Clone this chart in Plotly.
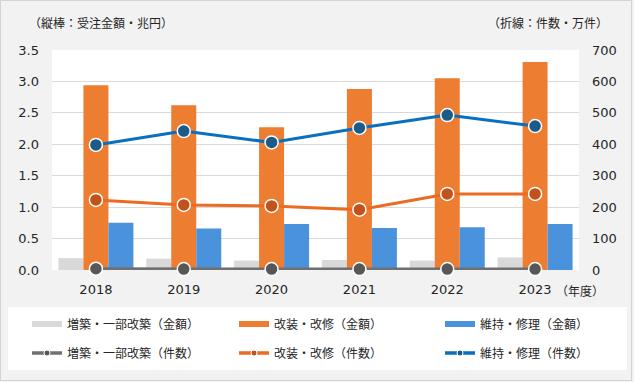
import plotly.graph_objects as go

years = ["2018", "2019", "2020", "2021", "2022", "2023"]

# bars (left axis, 兆円)
amt_extension = [0.19, 0.18, 0.15, 0.16, 0.15, 0.20]
amt_renovation = [2.94, 2.62, 2.27, 2.88, 3.05, 3.31]
amt_maintenance = [0.75, 0.66, 0.73, 0.67, 0.68, 0.73]

# lines (right axis, 万件)
cnt_extension = [4, 3, 3, 3, 3, 3]
cnt_renovation = [223, 207, 204, 192, 242, 242]
cnt_maintenance = [398, 442, 406, 452, 493, 458]

names_bar = ["増築・一部改築（金額）", "改装・改修（金額）", "維持・修理（金額）"]
names_line = ["増築・一部改築（件数）", "改装・改修（件数）", "維持・修理（件数）"]

left_ticks = [0, 0.5, 1.0, 1.5, 2.0, 2.5, 3.0, 3.5]
right_ticks = [0, 100, 200, 300, 400, 500, 600, 700]

W_FIG, H_FIG = 634, 382
L, R, T, B = 52, 579, 50, 270
PW, PH = R - L, B - T


def px_x(x):
    return (x - L) / PW


def px_y(y):
    return (B - y) / PH


FONT = "DejaVu Sans, Noto Sans CJK JP, sans-serif"
CJK = "Noto Sans CJK JP, sans-serif"
TXT = "#262626"

c_gray_bar, c_orange_bar, c_blue_bar = "#d9d9d9", "#ed7d31", "#4a93dc"
c_gray_line, c_orange_line, c_blue_line = "#707070", "#ec6a22", "#0a6fbf"
c_gray_mk, c_orange_mk, c_blue_mk = "#575757", "#c2511a", "#1c5b88"

fig = go.Figure()

for vals, col in [(amt_extension, c_gray_bar), (amt_renovation, c_orange_bar),
                  (amt_maintenance, c_blue_bar)]:
    fig.add_trace(go.Bar(x=years, y=vals, marker=dict(color=col, line=dict(width=0)),
                         showlegend=False, yaxis="y"))

for vals, lc, mc in [(cnt_extension, c_gray_line, c_gray_mk),
                     (cnt_renovation, c_orange_line, c_orange_mk),
                     (cnt_maintenance, c_blue_line, c_blue_mk)]:
    fig.add_trace(go.Scatter(x=years, y=vals, mode="lines+markers", yaxis="y2",
                             line=dict(color=lc, width=3),
                             marker=dict(size=13, color=mc, line=dict(color="white", width=1.5)),
                             cliponaxis=False, showlegend=False))

# legend entries (one legend per cell)
col_x = [27, 234, 440]
row_top = [309.5, 338.5]
legend_layouts = {}
idx = 1
for r in range(2):
    for c in range(3):
        key = "legend" if idx == 1 else f"legend{idx}"
        legend_layouts[key] = dict(x=px_x(col_x[c]), y=px_y(row_top[r]), xanchor="left",
                                   yanchor="top", bgcolor="rgba(0,0,0,0)",
                                   font=dict(family=CJK, size=12, color=TXT))
        if r == 0:
            col = [c_gray_bar, c_orange_bar, c_blue_bar][c]
            fig.add_trace(go.Scatter(x=[None], y=[None], mode="lines", name=names_bar[c],
                                     line=dict(color=col, width=6), legend=key, yaxis="y2"))
        else:
            lc = [c_gray_line, c_orange_line, c_blue_line][c]
            mc = [c_gray_mk, c_orange_mk, c_blue_mk][c]
            fig.add_trace(go.Scatter(x=[None], y=[None], mode="lines+markers", name=names_line[c],
                                     line=dict(color=lc, width=3.5),
                                     marker=dict(size=6, color=mc, line=dict(color="white", width=1)),
                                     legend=key, yaxis="y2"))
        idx += 1

shapes = [
    dict(type="rect", xref="paper", yref="paper", layer="below",
         x0=px_x(8), x1=px_x(627), y0=px_y(307), y1=px_y(370),
         fillcolor="white", line=dict(width=0)),
    dict(type="rect", xref="paper", yref="paper", layer="above",
         x0=px_x(0.5), x1=px_x(W_FIG - 2.5), y0=px_y(0.5), y1=px_y(H_FIG - 1.5),
         fillcolor="rgba(0,0,0,0)", line=dict(color="#d4d4d4", width=1)),
]

annotations = [
    dict(text="（縦棒：受注金額・兆円）", xref="paper", yref="paper", x=px_x(27), y=px_y(22),
         xanchor="left", yanchor="middle", showarrow=False, font=dict(family=CJK, size=12, color=TXT)),
    dict(text="（折線：件数・万件）", xref="paper", yref="paper", x=px_x(610), y=px_y(22),
         xanchor="right", yanchor="middle", showarrow=False, font=dict(family=CJK, size=12, color=TXT)),
    dict(text="（年度）", xref="paper", yref="paper", x=px_x(555), y=px_y(290),
         xanchor="left", yanchor="middle", showarrow=False, borderpad=0,
         font=dict(family=CJK, size=12, color=TXT)),
]

fig.update_layout(
    width=W_FIG, height=H_FIG,
    margin=dict(l=L, r=W_FIG - R, t=T, b=H_FIG - B, pad=0),
    paper_bgcolor="#f2f2f2", plot_bgcolor="white",
    barmode="group", bargap=0.146, bargroupgap=0,
    font=dict(family=FONT, size=13, color=TXT),
    xaxis=dict(type="category", showgrid=False, showline=False, zeroline=False, ticks="",
               tickfont=dict(size=13), ticklabelstandoff=10, fixedrange=True),
    yaxis=dict(range=[0, 3.5], tickvals=left_ticks, tickformat=".1f", showgrid=True,
               gridcolor="#d9d9d9", gridwidth=1, zeroline=False, showline=False, ticks="",
               tickfont=dict(size=13), ticklabelstandoff=12),
    yaxis2=dict(range=[0, 700], tickvals=right_ticks, overlaying="y", side="right",
                showgrid=False, zeroline=False, showline=False, ticks="",
                tickfont=dict(size=13), ticklabelstandoff=12),
    shapes=shapes, annotations=annotations,
    **legend_layouts,
)

fig.write_html("out.html", config={"displayModeBar": False},
               post_script="document.body.style.margin='0';document.body.style.overflow='hidden';")
